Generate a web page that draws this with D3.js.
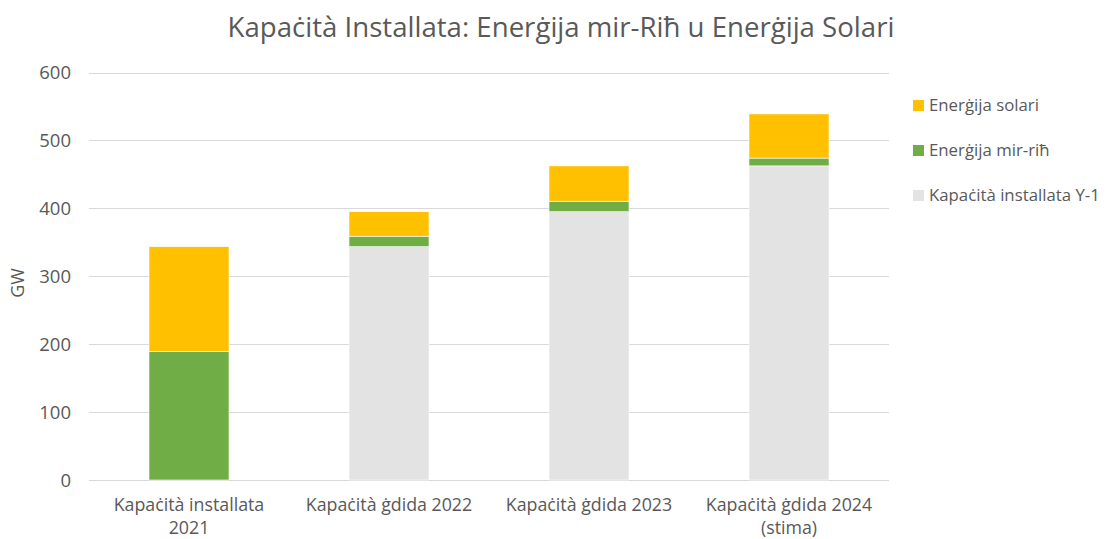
<!DOCTYPE html>
<html>
  <head>
    <style>
      body,
      html {
        margin: 0;
        padding: 0;
        background: #fff;
      }
      svg text {
        font-family: 'Open Sans', Lato, sans-serif;
        fill: #595959;
      }
    </style>
  </head>
  <body>
    <svg id="svg" width="1112" height="539"></svg>

    <script src="https://cdn.jsdelivr.net/npm/d3@7"></script>
    <script>
      const categories = [
        ['Kapaċità installata', '2021'],
        ['Kapaċità ġdida 2022'],
        ['Kapaċità ġdida 2023'],
        ['Kapaċità ġdida 2024', '(stima)']
      ];
      const seriesNames = ['Kapaċità installata Y-1', 'Enerġija mir-riħ', 'Enerġija solari'];
      const previousCapacity = [0, 343.5, 395, 462.5];
      const windValues = [189, 15.5, 15.5, 11.5];
      const solarValues = [154.5, 36, 52, 65];
      const yTicks = [0, 100, 200, 300, 400, 500, 600];
      const colors = ['#e3e3e3', '#70ad47', '#ffc000'];

      const plotLeft = 89;
      const plotRight = 889;
      const plotTop = 72.5;
      const plotBottom = 480;

      const svg = d3.select('#svg');

      const rows = categories.map((c, i) => ({
        key: i,
        prev: previousCapacity[i],
        wind: windValues[i],
        solar: solarValues[i]
      }));
      const stack = d3.stack().keys(['prev', 'wind', 'solar'])(rows);

      const xScale = d3
        .scaleBand()
        .domain(rows.map((d) => d.key))
        .range([plotLeft, plotRight])
        .paddingInner(0.6)
        .paddingOuter(0.3);
      const yScale = d3.scaleLinear().domain([0, 600]).range([plotBottom, plotTop]);

      // gridlines
      svg
        .append('g')
        .selectAll('line')
        .data(yTicks)
        .join('line')
        .attr('x1', plotLeft)
        .attr('x2', plotRight)
        .attr('y1', (d) => Math.round(yScale(d)) + 0.5)
        .attr('y2', (d) => Math.round(yScale(d)) + 0.5)
        .attr('stroke', '#d9d9d9')
        .attr('stroke-width', 1);

      // bars
      svg
        .append('g')
        .selectAll('g')
        .data(stack)
        .join('g')
        .attr('fill', (d, i) => colors[i])
        .selectAll('rect')
        .data((d) => d)
        .join('rect')
        .attr('x', (d) => xScale(d.data.key))
        .attr('width', xScale.bandwidth())
        .attr('y', (d) => yScale(d[1]))
        .attr('height', (d) => yScale(d[0]) - yScale(d[1]))
        .attr('stroke', '#fff')
        .attr('stroke-width', 0.6);

      // y axis
      const leftAxis = d3
        .axisLeft(yScale)
        .tickValues(yTicks)
        .tickSize(0)
        .tickPadding(0);
      const yAxis = svg
        .append('g')
        .attr('transform', `translate(${plotLeft - 18}, 0)`)
        .call(leftAxis);
      yAxis.select('.domain').remove();
      yAxis.attr('font-family', null).attr('font-size', null);
      yAxis
        .selectAll('text')
        .attr('font-size', 18.5)
        .attr('dy', '0.35em')
        .style('fill', '#595959');

      // x axis labels
      const xAxis = svg.append('g');
      xAxis
        .selectAll('text')
        .data(rows)
        .join('text')
        .attr('x', (d) => xScale(d.key) + xScale.bandwidth() / 2)
        .attr('y', 511)
        .attr('text-anchor', 'middle')
        .attr('font-size', 17.8)
        .selectAll('tspan')
        .data((d) => categories[d.key])
        .join('tspan')
        .attr('x', function () {
          return this.parentNode.getAttribute('x');
        })
        .attr('dy', (d, i) => (i === 0 ? 0 : 23))
        .text((d) => d);

      // axis title
      svg
        .append('text')
        .attr('transform', `translate(24, 283) rotate(-90)`)
        .attr('text-anchor', 'middle')
        .attr('font-size', 18)
        .text('GW');

      // title
      svg
        .append('text')
        .attr('x', 561)
        .attr('y', 37)
        .attr('text-anchor', 'middle')
        .attr('font-size', 27.6)
        .text('Kapaċità Installata: Enerġija mir-Riħ u Enerġija Solari');

      // legend
      const legendOrder = [2, 1, 0];
      const legend = svg
        .append('g')
        .selectAll('g')
        .data(legendOrder)
        .join('g')
        .attr('transform', (d, i) => `translate(913, ${105 + i * 45})`);
      legend
        .append('rect')
        .attr('x', 0)
        .attr('y', -5)
        .attr('width', 11)
        .attr('height', 11)
        .attr('fill', (d) => colors[d]);
      legend
        .append('text')
        .attr('x', 16)
        .attr('y', 6)
        .attr('font-size', 16.8)
        .text((d) => seriesNames[d]);
    </script>
  </body>
</html>
